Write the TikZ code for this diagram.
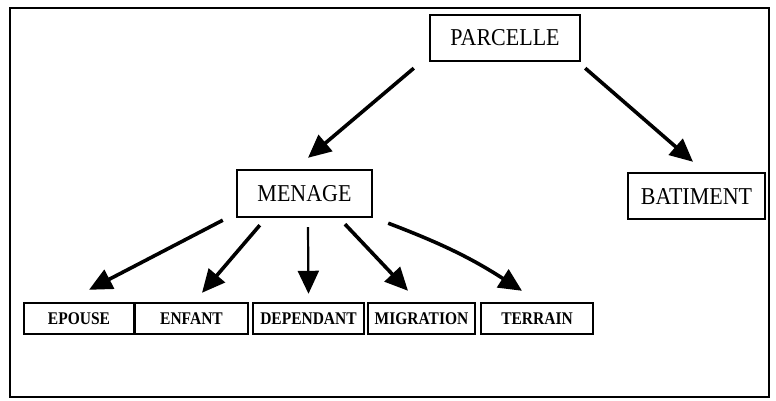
\documentclass[tikz,border=0pt]{standalone}
\usepackage{fontspec}
\setmainfont{Liberation Serif}
\usetikzlibrary{arrows.meta,calc}
% slightly tall lettering for the labels
\newcommand\talltop[1]{\scalebox{1}[1.1]{#1}}
\newcommand\tallsub[1]{\scalebox{1}[1.15]{#1}}

\begin{document}
\begin{tikzpicture}[x=1pt,y=-1pt,
  topbox/.style={draw,line width=2.4pt,inner sep=0pt,
    font=\fontsize{22}{26}\selectfont,text height=16pt,text depth=0pt},
  subbox/.style={draw,line width=2.4pt,inner sep=0pt,minimum height=31pt,
    font=\fontsize{15.5}{18}\selectfont\bfseries,text height=11.8pt,text depth=0pt},
  link/.style={line width=3.6pt,-{Triangle[length=23pt,width=21pt]}},
  thinlink/.style={line width=2.2pt,-{Triangle[length=23pt,width=21pt]}}]
  \useasboundingbox (0,0) rectangle (776,401);
  % outer frame
  \draw[line width=2.4pt] (10,8) rectangle (769,397);

  % main entities
  \node[topbox,minimum width=150pt,minimum height=46pt] (parcelle) at (505,38) {\talltop{PARCELLE}};
  \node[topbox,minimum width=135pt,minimum height=47pt] (menage) at (304.5,193.5) {\talltop{MENAGE}};
  \node[topbox,minimum width=137pt,minimum height=46pt] (batiment) at (696.5,196) {\talltop{BATIMENT}};

  % household sub-records
  \node[subbox,minimum width=110pt] (epouse) at (79,318.5) {\tallsub{EPOUSE}};
  \node[subbox,minimum width=113pt] (enfant) at (191.5,318.5) {\tallsub{ENFANT}};
  \node[subbox,minimum width=111pt] (dependant) at (308.5,318.5) {\tallsub{DEPENDANT}};
  \node[subbox,minimum width=107pt] (migration) at (421.5,318.5) {\tallsub{MIGRATION}};
  \node[subbox,minimum width=112pt] (terrain) at (537,318.5) {\tallsub{TERRAIN}};

  % links
  \draw[link] ($(parcelle.south west)+(-15,6)$) -- ($(menage.north)+(3.5,-11)$);
  \draw[link] ($(parcelle.south east)+(4,6)$) -- ($(batiment.north)+(-3.5,-10)$);
  \draw[link] ($(menage.south west)+(-13,2)$) -- ($(epouse.north)+(10,-12)$);
  \draw[link] ($(menage.south west)+(24,7)$) -- ($(enfant.north)+(10.5,-9)$);
  \draw[thinlink] ($(menage.south)+(3.5,9)$) -- ($(dependant.north)+(0,-8)$);
  \draw[link] ($(menage.south)+(40.5,6)$) -- ($(migration.north)+(-13.5,-11)$);
  \draw[link] ($(menage.south east)+(15,5)$) to[bend left=6] ($(terrain.north)+(-15,-11)$);
\end{tikzpicture}
\end{document}
